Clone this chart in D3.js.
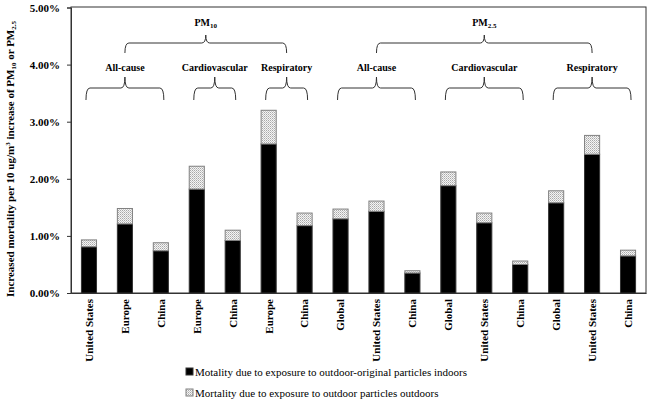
<!DOCTYPE html>
<html><head><meta charset="utf-8">
<script src="https://cdn.jsdelivr.net/npm/d3@7"></script>
<style>body{margin:0;background:#fff}svg{display:block}</style>
</head><body><svg id="c" width="650" height="400"></svg>
<script>
const categories = ["United States","Europe","China","Europe","China","Europe","China","Global","United States","China","Global","United States","China","Global","United States","China"];
const indoorValues = [0.81,1.21,0.74,1.82,0.92,2.61,1.18,1.30,1.43,0.35,1.88,1.23,0.50,1.58,2.43,0.65];
const totalValues  = [0.93,1.48,0.88,2.22,1.10,3.20,1.40,1.47,1.61,0.39,2.12,1.40,0.56,1.79,2.76,0.75];
const outdoorValues = totalValues.map((t,i)=>+(t-indoorValues[i]).toFixed(2));
const yTicks = [0,1,2,3,4,5];
const seriesNames = ["Motality due to exposure to outdoor-original particles indoors","Mortality due to exposure to outdoor particles outdoors"];
const subGroups = [
  {label:"All-cause", from:0, to:2, pm:0},
  {label:"Cardiovascular", from:3, to:4, pm:0},
  {label:"Respiratory", from:5, to:6, pm:0},
  {label:"All-cause", from:7, to:9, pm:1},
  {label:"Cardiovascular", from:10, to:12, pm:1},
  {label:"Respiratory", from:13, to:15, pm:1}
];
const pmGroups = [{base:"PM", sub:"10"},{base:"PM", sub:"2.5"}];

const svg = d3.select("#c");
const font = "'Liberation Serif','Times New Roman',serif";
const L=71, R=646, T=7, B=293;
const x = d3.scaleBand().domain(d3.range(categories.length)).range([L,R]).paddingInner(0.58).paddingOuter(0.29);
const y = d3.scaleLinear().domain([0,5]).range([B,T+0.5]);

const defs = svg.append("defs");
const pat = defs.append("pattern").attr("id","dots").attr("patternUnits","userSpaceOnUse").attr("width",2).attr("height",2);
pat.append("rect").attr("width",2).attr("height",2).attr("fill","#f4f4f4");
pat.append("rect").attr("width",1).attr("height",1).attr("fill","#a8a8a8");
pat.append("rect").attr("x",1).attr("y",1).attr("width",1).attr("height",1).attr("fill","#c8c8c8");

// frame
svg.append("rect").attr("x",L).attr("y",T).attr("width",R-L).attr("height",B-T).attr("fill","none").attr("stroke","#333").attr("stroke-width",1);

// y axis
const yAxis = svg.append("g").attr("transform",`translate(${L},0)`)
  .call(d3.axisLeft(y).tickValues(yTicks).tickSize(4).tickFormat(d=>d.toFixed(2)+"%"));
yAxis.select(".domain").attr("stroke","#333");
yAxis.selectAll(".tick line").attr("stroke","#333");
yAxis.selectAll("text").attr("font-family",font).attr("font-size",11).attr("font-weight","bold").attr("fill","#000").attr("dx",-4);

// x axis
const xAxis = svg.append("g").attr("transform",`translate(0,${B})`)
  .call(d3.axisBottom(x).tickSize(0).tickFormat(i=>categories[i]));
xAxis.select(".domain").attr("stroke","#333");
xAxis.selectAll("text").attr("font-family",font).attr("font-size",11).attr("font-weight","bold").attr("fill","#000")
  .attr("transform","rotate(-90)").attr("text-anchor","end").attr("x",-6).attr("y",0).attr("dy","0.35em");

// bars
const bw = x.bandwidth();
svg.append("g").selectAll("rect").data(indoorValues).join("rect")
  .attr("x",(d,i)=>x(i)).attr("width",bw).attr("y",d=>y(d)).attr("height",d=>B-y(d))
  .attr("fill","#000").attr("stroke","#333").attr("stroke-width",1);
svg.append("g").selectAll("rect").data(outdoorValues).join("rect")
  .attr("x",(d,i)=>x(i)).attr("width",bw).attr("y",(d,i)=>y(indoorValues[i]+d)).attr("height",(d,i)=>y(indoorValues[i])-y(indoorValues[i]+d))
  .attr("fill","url(#dots)").attr("stroke","#808080").attr("stroke-width",1);

// braces
function brace(x1,x2,cx,yTop,yLine,yBot){
  const r=4;
  return `M${x1},${yBot} Q${x1},${yLine} ${x1+r},${yLine} L${cx-r},${yLine} Q${cx},${yLine} ${cx},${yTop} Q${cx},${yLine} ${cx+r},${yLine} L${x2-r},${yLine} Q${x2},${yLine} ${x2},${yBot}`;
}
const cen = i => x(i)+bw/2;
const subCenters = subGroups.map(g => (cen(g.from)+cen(g.to))/2);
const bg = svg.append("g").attr("fill","none").attr("stroke","#333").attr("stroke-width",1);
subGroups.forEach((g,k)=>{
  const x1 = cen(g.from)-3, x2 = cen(g.to)+3, c = subCenters[k];
  bg.append("path").attr("d",brace(x1,x2,c,77,88,100));
  svg.append("text").attr("x",c).attr("y",71).attr("text-anchor","middle")
    .attr("font-family",font).attr("font-size",10).attr("font-weight","bold").text(g.label);
});
pmGroups.forEach((p,k)=>{
  const cs = subGroups.map((g,j)=>g.pm===k?subCenters[j]:null).filter(v=>v!==null);
  const x1 = d3.min(cs), x2 = d3.max(cs), c = (x1+x2)/2;
  bg.append("path").attr("d",brace(x1,x2,c,35,43,53));
  const t = svg.append("text").attr("x",c).attr("y",26).attr("text-anchor","middle")
    .attr("font-family",font).attr("font-size",10).attr("font-weight","bold");
  t.append("tspan").text(p.base);
  t.append("tspan").attr("font-size",7).attr("dy",2).text(p.sub);
});

// y title
const yt = svg.append("text").attr("transform","translate(14,297) rotate(-90)").attr("text-anchor","start")
  .attr("font-family",font).attr("font-size",11).attr("font-weight","bold");
yt.append("tspan").text("Increased mortality  per 10 ug/m");
yt.append("tspan").attr("font-size",7).attr("dy",-4).text("3");
yt.append("tspan").attr("dy",4).text(" increase of PM");
yt.append("tspan").attr("font-size",7).attr("dy",2).text("10");
yt.append("tspan").attr("dy",-2).text(" or PM");
yt.append("tspan").attr("font-size",7).attr("dy",2).text("2.5");

// legend
const lg = svg.append("g").attr("transform","translate(186,0)");
const ly = [372,393];
lg.append("rect").attr("x",0).attr("y",ly[0]-4).attr("width",7).attr("height",7).attr("fill","#000").attr("stroke","#333");
lg.append("rect").attr("x",0).attr("y",ly[1]-4).attr("width",7).attr("height",7).attr("fill","url(#dots)").attr("stroke","#808080");
seriesNames.forEach((s,i)=>{
  lg.append("text").attr("x",9).attr("y",ly[i]).attr("dy","0.35em").attr("font-family",font).attr("font-size",11).text(s);
});
</script></body></html>
